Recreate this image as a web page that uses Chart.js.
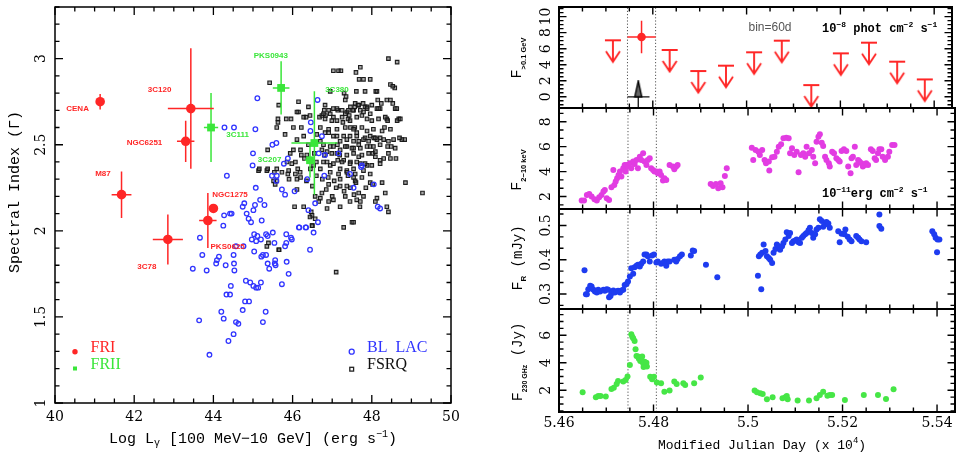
<!DOCTYPE html>
<html><head><meta charset="utf-8"><title>Radio galaxies and 3C 120</title>
<script src="https://cdn.jsdelivr.net/npm/chart.js@4.4.1/dist/chart.umd.min.js"></script>
<style>
html,body{margin:0;padding:0;background:#fff;}
#wrap{position:relative;width:959px;height:457px;overflow:hidden;background:#fff;}
#wrap canvas{position:absolute;top:0;}
</style></head>
<body><div id="wrap">
<canvas id="cL" width="480" height="457" style="left:0px"></canvas>
<canvas id="c1" width="479" height="457" style="left:480px"></canvas>
<canvas id="c2" width="479" height="457" style="left:480px"></canvas>
<canvas id="c3" width="479" height="457" style="left:480px"></canvas>
<canvas id="c4" width="479" height="457" style="left:480px"></canvas>
</div>
<script>
// ---------------- LEFT PANEL DATA ----------------
const leftXTicks = [40, 42, 44, 46, 48, 50];
const leftYTicks = [1, 1.5, 2, 2.5, 3];
const leftYTickLabels = ['1', '1.5', '2', '2.5', '3'];

const friNames = ['CENA', '3C120', 'NGC6251', 'M87', 'NGC1275', 'PKS0625', '3C78'];
const friLogL  = [41.14, 43.43, 43.30, 41.68, 44.00, 43.86, 42.85];
const friGamma = [2.75, 2.71, 2.52, 2.21, 2.13, 2.06, 1.95];
const friLErr  = [0.05, 0.58, 0.22, 0.25, 0.04, 0.22, 0.38];
const friGErr  = [0.045, 0.35, 0.12, 0.135, 0.02, 0.16, 0.145];
const friLabelPos = [[40.57, 2.71], [42.64, 2.82], [42.26, 2.51], [41.21, 2.33], [44.42, 2.21], [44.36, 1.91], [42.32, 1.79]];

const friiNames = ['3C111', 'PKS0943', '3C380', '3C207'];
const friiLogL  = [43.94, 45.71, 46.55, 46.44];
const friiGamma = [2.60, 2.83, 2.51, 2.41];
const friiLErr  = [0.18, 0.21, 0.58, 0.13];
const friiGErr  = [0.20, 0.155, 0.30, 0.10];
const friiLabelPos = [[44.61, 2.56], [45.45, 3.015], [47.12, 2.82], [45.42, 2.41]];

const blLac = [
[45.11,2.77],[44.28,2.60],[44.52,2.60],[45.06,2.59],[45.49,2.50],[45.59,2.51],[45.00,2.45],[44.99,2.38],[44.34,2.32],[45.07,2.25],
[45.48,2.32],[45.60,2.32],[45.59,2.29],[45.73,2.24],[45.81,2.21],[45.88,2.42],[45.78,2.39],[46.05,2.23],[46.37,2.30],[46.57,2.16],
[46.40,2.12],[46.80,2.32],[46.46,2.63],[46.63,2.76],[46.45,2.58],[46.74,2.55],[46.66,2.45],[46.82,2.44],[47.16,2.45],[47.73,2.37],
[47.45,2.33],[46.64,2.05],[46.16,2.02],[46.33,2.02],[46.53,1.99],[46.44,1.89],[47.54,2.25],[47.75,2.38],[48.05,2.27],[48.15,2.14],
[48.21,2.13],[45.18,2.18],[45.29,2.15],[45.05,2.15],[44.78,2.16],[44.74,2.14],[45.01,2.12],[44.84,2.10],[44.27,2.09],[44.42,2.10],
[44.46,2.10],[44.89,2.07],[44.95,2.05],[45.22,2.06],[44.25,2.03],[43.66,1.96],[43.72,1.86],[43.48,1.78],[43.83,1.77],[44.07,1.81],
[44.09,1.83],[44.14,1.85],[44.31,1.80],[44.51,1.86],[44.52,1.81],[44.53,1.77],[44.82,1.71],[44.93,1.70],[45.01,1.68],[45.08,1.67],
[45.13,1.67],[45.20,1.70],[44.44,1.68],[44.33,1.63],[44.42,1.63],[44.80,1.59],[44.90,1.59],[44.74,1.54],[45.32,1.53],[44.20,1.53],
[44.26,1.49],[43.64,1.48],[44.57,1.47],[44.63,1.46],[45.25,1.47],[44.51,1.40],[44.38,1.36],[43.90,1.28],[45.03,1.98],[45.11,1.97],
[44.97,1.95],[45.08,1.94],[45.20,1.95],[45.33,1.98],[45.37,1.97],[45.50,1.99],[45.54,1.93],[45.84,1.98],[45.96,1.96],[45.98,1.95],
[45.84,1.93],[45.81,1.91],[45.03,1.88],[45.25,1.86],[45.21,1.85],[45.33,1.86],[45.37,1.81],[45.41,1.78],[45.56,1.83],[45.55,1.81],
[45.57,1.80],[45.85,1.82],[45.90,1.75],[45.73,1.69],[46.17,2.02],[46.34,2.02],[44.57,1.91],[44.76,1.91]
];

const fsrq = [
[45.42,2.86],[45.65,2.73],[45.63,2.65],[45.84,2.65],[45.60,2.60],[45.81,2.56],[47.03,2.93],[47.16,2.93],[47.22,2.93],[47.71,2.95],
[47.60,2.92],[47.68,2.88],[47.79,2.88],[47.96,2.88],[48.42,3.00],[48.64,2.98],[48.47,2.85],[48.58,2.83],[47.83,2.81],[47.61,2.81],
[48.10,2.81],[47.30,2.80],[47.35,2.78],[46.95,2.81],[48.15,2.76],[48.38,2.76],[48.47,2.76],[48.59,2.71],[47.83,2.72],[47.88,2.72],
[47.46,2.72],[47.57,2.72],[47.65,2.73],[48.13,2.71],[48.21,2.71],[46.15,2.75],[46.15,2.69],[46.40,2.72],[46.80,2.70],[47.03,2.71],
[47.14,2.70],[47.37,2.69],[47.43,2.67],[47.54,2.70],[47.79,2.69],[47.96,2.68],[48.68,2.65],[48.64,2.64],[48.38,2.65],[46.68,2.66],
[46.74,2.67],[46.83,2.67],[46.95,2.68],[47.03,2.66],[47.25,2.66],[47.40,2.65],[46.28,2.66],[46.44,2.67],[47.46,2.60],[47.57,2.60],
[47.75,2.60],[47.62,2.57],[47.96,2.55],[48.05,2.54],[48.32,2.60],[48.55,2.53],[48.83,2.53],[48.49,2.49],[48.61,2.42],[48.30,2.42],
[46.02,2.60],[46.28,2.55],[46.61,2.56],[46.82,2.57],[46.91,2.57],[47.03,2.55],[47.20,2.52],[47.37,2.53],[47.54,2.52],[47.67,2.52],
[47.83,2.54],[47.92,2.52],[48.21,2.54],[48.13,2.53],[47.03,2.49],[48.42,2.45],[45.86,2.40],[45.98,2.39],[46.07,2.40],[46.13,2.36],
[46.22,2.44],[46.36,2.44],[46.02,2.47],[45.94,2.45],[46.74,2.47],[46.87,2.46],[47.12,2.45],[47.20,2.47],[47.37,2.49],[47.54,2.48],
[47.71,2.48],[47.96,2.49],[48.03,2.45],[48.09,2.46],[47.67,2.43],[47.14,2.41],[47.29,2.41],[47.46,2.40],[46.95,2.38],[46.78,2.40],
[47.71,2.39],[47.88,2.38],[47.54,2.36],[46.53,2.38],[46.70,2.36],[47.20,2.36],[47.37,2.35],[46.19,2.34],[45.90,2.35],[45.54,2.34],
[45.60,2.29],[45.35,2.35],[45.14,2.35],[45.52,2.29],[47.96,2.28],[48.02,2.27],[48.26,2.28],[47.54,2.31],[47.58,2.29],[47.46,2.25],
[47.37,2.26],[47.20,2.26],[47.67,2.22],[47.79,2.20],[47.62,2.18],[47.71,2.17],[47.33,2.20],[46.91,2.27],[46.74,2.22],[46.57,2.20],
[46.66,2.17],[46.91,2.17],[47.20,2.14],[47.03,2.18],[48.34,2.22],[48.13,2.19],[48.09,2.17],[48.42,2.11],[48.38,2.14],[49.28,2.22],
[48.85,2.28],[46.05,2.14],[46.11,2.24],[46.47,2.11],[46.49,2.09],[46.57,2.07],[46.50,2.03],[46.28,2.14],[45.88,2.33],[45.91,2.30],
[47.29,2.02],[47.50,2.05],[47.54,2.05],[47.10,1.76],[45.65,1.89],[45.35,1.91],[45.73,2.34],[45.56,2.27],[48.53,2.84],[48.13,2.81],
[47.33,2.76],[48.53,2.74],[48.24,2.74],[48.17,2.71],[48.63,2.71],[47.58,2.74],[47.67,2.73],[47.78,2.74],[47.52,2.70],[47.41,2.70],
[47.71,2.70],[47.88,2.71],[48.00,2.73],[46.82,2.73],[46.91,2.70],[46.78,2.68],[47.12,2.71],[47.25,2.70],[47.33,2.68],[46.34,2.66],
[46.82,2.65],[46.99,2.64],[47.12,2.64],[47.27,2.63],[47.45,2.64],[47.62,2.66],[47.75,2.67],[47.88,2.65],[48.00,2.64],[48.17,2.65],
[48.34,2.66],[48.40,2.64],[48.72,2.65],[46.70,2.60],[46.91,2.59],[47.12,2.59],[47.33,2.60],[47.54,2.59],[47.88,2.58],[48.04,2.59],
[48.26,2.58],[48.47,2.59],[47.12,2.55],[47.29,2.55],[47.45,2.55],[47.62,2.55],[47.79,2.53],[48.09,2.54],[48.30,2.53],[48.42,2.52],
[48.76,2.53],[48.70,2.54],[46.78,2.50],[46.95,2.49],[47.13,2.50],[47.33,2.49],[47.50,2.48],[47.67,2.50],[47.88,2.49],[48.04,2.49],
[48.21,2.50],[48.40,2.49],[48.59,2.48],[46.99,2.45],[47.19,2.44],[47.37,2.44],[47.54,2.45],[47.75,2.44],[47.92,2.45],[48.09,2.43],
[48.21,2.41],[48.47,2.42],[46.87,2.40],[47.03,2.39],[47.25,2.40],[47.45,2.39],[47.62,2.40],[47.83,2.39],[48.00,2.38],[48.21,2.39],
[46.95,2.34],[47.16,2.33],[47.37,2.34],[47.58,2.33],[47.79,2.35],[47.96,2.33],[46.60,2.32],[46.75,2.30],[46.90,2.31],[47.05,2.29],
[47.20,2.30],[47.40,2.32],[47.60,2.28],[47.75,2.31],[46.50,2.26],[46.85,2.24],[47.10,2.25],[47.30,2.23],[47.55,2.21],[47.85,2.25],
[46.70,2.19],[47.00,2.20],[47.45,2.17],[47.70,2.14],[46.60,2.40],[46.45,2.36],[46.30,2.42],[46.40,2.50],[46.20,2.47],[46.70,2.52],
[46.55,2.45],[46.80,2.44],[46.35,2.29],[46.20,2.31],[46.11,2.69],[45.96,2.65],[45.63,2.63],[46.22,2.60],[46.11,2.53],[45.37,2.47],
[45.16,2.36],[45.37,2.36],[45.60,2.36],[46.07,2.33],[46.11,2.30],[46.87,2.13],[45.39,1.93],[45.66,1.89],[46.49,2.03],[46.44,2.08]
];

// ---------------- RIGHT PANELS DATA (MJD) ----------------
const mjdTicks = [54600, 54800, 55000, 55200, 55400];
const mjdTickLabels = ['5.46', '5.48', '5.5', '5.52', '5.54'];
const flareWindow = [54746, 54806];

const gammaTicks = [0, 2, 4, 6, 8, 10];
const gammaULMjd = [54715, 54836, 54897, 54956, 55016, 55075, 55138, 55201, 55261, 55321, 55380];
const gammaUL    = [7.05, 5.84, 3.21, 3.88, 5.55, 7.00, 1.46, 5.42, 6.75, 4.38, 2.17];
const gammaDetMjd = [54776];
const gammaDet    = [7.46];
const gammaDetMjdErr = [30];
const gammaDetErr    = [2.04];
const ejectionMjd = [54769];
const ejectionSpan = [54746, 54793];

const xrayTicks = [2, 4, 6, 8];
const xray = [
[54648,1.68],[54653,1.68],[54659,2.13],[54664,2.21],[54669,2.00],[54675,1.79],[54680,1.68],[54685,1.95],[54690,2.13],[54694,2.40],
[54697,2.53],[54701,1.87],[54706,1.73],[54711,2.75],[54715,4.13],[54717,2.93],[54720,3.20],[54723,3.47],[54726,3.73],[54729,4.00],
[54732,3.60],[54736,4.27],[54739,4.53],[54741,4.00],[54743,4.53],[54746,4.40],[54750,4.67],[54753,4.27],[54757,4.80],[54760,4.61],
[54764,4.93],[54767,4.27],[54771,5.20],[54774,4.93],[54778,5.47],[54781,4.80],[54785,4.53],[54788,4.93],[54792,5.07],[54795,4.27],
[54799,4.13],[54802,4.00],[54806,4.00],[54809,3.87],[54813,4.00],[54816,3.73],[54820,3.28],[54823,3.47],[54827,3.33],[54834,4.53],
[54841,4.40],[54844,4.19],[54848,4.40],[54851,4.53],[54921,3.01],[54926,2.85],[54932,3.01],[54937,2.67],[54942,3.07],[54946,2.75],
[54951,3.65],[54955,4.27],[55008,5.92],[55011,4.93],[55016,5.73],[55022,5.60],[55025,5.33],[55030,5.73],[55035,4.93],[55038,4.67],
[55044,4.80],[55045,4.08],[55051,5.15],[55056,5.20],[55061,5.60],[55065,6.00],[55070,6.19],[55075,6.67],[55081,6.72],[55086,6.67],
[55089,5.47],[55093,5.87],[55098,5.33],[55103,5.60],[55107,3.95],[55112,5.33],[55117,5.47],[55121,5.20],[55124,6.00],[55129,5.47],
[55135,5.73],[55138,5.20],[55142,4.67],[55145,6.40],[55149,6.80],[55152,6.99],[55156,6.32],[55159,6.05],[55163,5.20],[55166,4.93],
[55171,4.67],[55173,4.40],[55178,5.60],[55182,5.47],[55187,5.07],[55191,4.93],[55194,4.80],[55198,5.65],[55203,5.79],[55208,5.65],
[55212,4.40],[55217,3.87],[55219,5.07],[55222,5.20],[55226,6.00],[55229,4.53],[55233,4.93],[55236,4.80],[55240,4.67],[55243,4.40],
[55247,4.53],[55250,4.67],[55254,4.53],[55260,5.79],[55264,5.65],[55268,5.07],[55271,4.93],[55275,5.47],[55278,5.79],[55282,5.79],
[55285,5.20],[55290,4.93],[55296,5.20],[55299,5.60],[55305,6.13],[55310,6.13]
];

const opticalTicks = [0.3, 0.4, 0.5];
const optical = [
[54654,0.369],[54657,0.299],[54659,0.299],[54662,0.314],[54666,0.324],[54669,0.322],[54673,0.312],[54676,0.307],[54680,0.304],[54683,0.312],
[54687,0.307],[54694,0.312],[54697,0.309],[54701,0.314],[54704,0.312],[54706,0.290],[54709,0.294],[54711,0.302],[54715,0.310],[54718,0.304],
[54722,0.307],[54725,0.309],[54729,0.304],[54732,0.310],[54736,0.312],[54739,0.326],[54743,0.329],[54746,0.336],[54750,0.351],[54753,0.375],
[54757,0.359],[54760,0.378],[54764,0.382],[54767,0.385],[54771,0.380],[54774,0.388],[54778,0.395],[54781,0.415],[54785,0.415],[54788,0.410],
[54792,0.395],[54797,0.412],[54801,0.415],[54806,0.392],[54809,0.395],[54816,0.388],[54820,0.390],[54823,0.395],[54827,0.382],[54830,0.395],
[54834,0.395],[54844,0.400],[54848,0.395],[54851,0.402],[54856,0.410],[54860,0.415],[54879,0.412],[54883,0.427],[54886,0.425],[54911,0.385],
[54935,0.349],[55021,0.353],[55028,0.314],[55023,0.410],[55026,0.415],[55030,0.420],[55033,0.444],[55037,0.425],[55040,0.410],[55044,0.405],
[55047,0.400],[55051,0.390],[55054,0.420],[55058,0.431],[55061,0.444],[55065,0.439],[55068,0.429],[55072,0.439],[55075,0.449],[55079,0.459],
[55082,0.480],[55086,0.469],[55089,0.478],[55093,0.449],[55096,0.454],[55100,0.456],[55103,0.459],[55107,0.451],[55110,0.449],[55114,0.464],
[55117,0.469],[55121,0.474],[55124,0.478],[55128,0.486],[55131,0.493],[55135,0.478],[55138,0.464],[55142,0.474],[55145,0.488],[55149,0.493],
[55152,0.518],[55156,0.513],[55159,0.496],[55163,0.503],[55166,0.510],[55170,0.506],[55173,0.493],[55191,0.483],[55194,0.451],[55198,0.476],
[55204,0.474],[55206,0.488],[55211,0.467],[55215,0.459],[55219,0.454],[55229,0.469],[55233,0.464],[55236,0.459],[55240,0.454],[55250,0.451],
[55278,0.532],[55278,0.498],[55282,0.490],[55390,0.483],[55394,0.474],[55397,0.464],[55401,0.459],[55400,0.422],[55405,0.459]
];

const mmTicks = [2, 4, 6];
const mm230 = [
[54650,1.85],[54678,1.49],[54683,1.59],[54688,1.59],[54699,1.54],[54711,2.10],[54716,2.19],[54722,2.46],[54725,2.68],[54736,2.63],
[54741,2.75],[54745,3.00],[54750,3.84],[54753,6.07],[54755,5.90],[54757,5.78],[54760,5.59],[54762,4.98],[54764,4.50],[54767,4.45],
[54769,4.30],[54771,4.33],[54772,4.13],[54774,4.21],[54776,4.45],[54778,3.96],[54779,3.70],[54781,4.08],[54783,3.84],[54785,4.01],
[54786,3.72],[54793,2.99],[54797,2.80],[54801,2.99],[54807,2.56],[54816,2.51],[54823,1.90],[54834,1.98],[54844,2.63],[54849,2.46],
[54863,2.51],[54867,2.39],[54886,2.51],[54900,2.92],[55014,1.98],[55019,1.85],[55026,1.78],[55031,1.73],[55040,1.35],[55052,1.49],
[55073,1.42],[55079,1.49],[55082,1.59],[55084,1.35],[55105,1.25],[55129,1.25],[55145,1.42],[55152,1.66],[55159,1.90],[55168,1.61],
[55173,1.66],[55178,1.66],[55205,1.30],[55245,1.66],[55275,1.66],[55292,1.37],[55308,2.07]
];

// ---------------- STYLE ----------------
const RED = '#ff2626', GREEN = '#3ae63a', BLUE_BL = '#3034ff', MAG = '#e23ce2', OPT = '#1e3cf0', MMG = '#46e646';
const NUMFONT = '14px "DejaVu Serif"';
const MONO = '"Liberation Mono"';

// ---------------- HELPERS ----------------
function pts(pairs) { return pairs.map(p => ({x: p[0], y: p[1]})); }
function zip(xs, ys) { return xs.map((x, i) => ({x: x, y: ys[i]})); }
function errSegs(xs, ys, xe, ye) {
  const out = [];
  xs.forEach((x, i) => {
    out.push({x: x, y: ys[i] - ye[i]}, {x: x, y: ys[i] + ye[i]}, {x: x, y: null});
    out.push({x: x - xe[i], y: ys[i]}, {x: x + xe[i], y: ys[i]}, {x: x, y: null});
  });
  return out;
}
function vLines(xs, lo, hi) {
  const out = [];
  xs.forEach(x => { out.push({x: x, y: lo}, {x: x, y: hi}, {x: x, y: null}); });
  return out;
}
function minorVals(maj, sub, lo, hi) {
  const st = (maj[1] - maj[0]) / sub, out = [];
  const k0 = Math.ceil((lo - maj[0]) / st - 1e-9), k1 = Math.floor((hi - maj[0]) / st + 1e-9);
  for (let k = k0; k <= k1; k++) out.push({v: maj[0] + k * st, major: (((k % sub) + sub) % sub) === 0});
  return out;
}
function drawFrame(chart, o) {
  const ctx = chart.ctx, a = chart.chartArea, xs = chart.scales.x, ys = chart.scales.y;
  ctx.save();
  ctx.strokeStyle = '#000';
  ctx.lineWidth = o.tw;
  ctx.beginPath();
  minorVals(o.xMaj, o.xSub, xs.min, xs.max).forEach(t => {
    const p = xs.getPixelForValue(t.v), L = t.major ? o.maj : o.min;
    ctx.moveTo(p, a.bottom); ctx.lineTo(p, a.bottom - L);
    ctx.moveTo(p, a.top); ctx.lineTo(p, a.top + L);
  });
  minorVals(o.yMaj, o.ySub, ys.min, ys.max).forEach(t => {
    const p = ys.getPixelForValue(t.v), L = t.major ? o.maj : o.min;
    ctx.moveTo(a.left, p); ctx.lineTo(a.left + L, p);
    ctx.moveTo(a.right, p); ctx.lineTo(a.right - L, p);
  });
  ctx.stroke();
  ctx.lineWidth = o.lw;
  ctx.strokeRect(a.left, a.top, a.right - a.left, a.bottom - a.top);
  ctx.restore();
}
function rich(ctx, parts, x, y, align, rot, color) {
  ctx.save();
  ctx.translate(x, y);
  if (rot) ctx.rotate(rot);
  ctx.fillStyle = color || '#000';
  ctx.textBaseline = 'middle';
  ctx.textAlign = 'left';
  let w = 0;
  parts.forEach(p => { ctx.font = p[1]; w += ctx.measureText(p[0]).width; });
  let cx = align === 'center' ? -w / 2 : (align === 'right' ? -w : 0);
  parts.forEach(p => { ctx.font = p[1]; ctx.fillText(p[0], cx, p[2] || 0); cx += ctx.measureText(p[0]).width; });
  ctx.restore();
}
function rotLabel(ctx, txt, x, y, font) {
  ctx.save(); ctx.translate(x, y); ctx.rotate(-Math.PI / 2);
  ctx.font = font; ctx.fillStyle = '#000'; ctx.textAlign = 'center'; ctx.textBaseline = 'middle';
  ctx.fillText(txt, 0, 0); ctx.restore();
}
function baseOptions(pad, xr, yr) {
  return {
    responsive: false, animation: false, events: [], devicePixelRatio: 1,
    layout: {padding: pad},
    plugins: {legend: {display: false}, tooltip: {enabled: false}, title: {display: false}},
    scales: {
      x: {type: 'linear', min: xr[0], max: xr[1], display: false},
      y: {type: 'linear', min: yr[0], max: yr[1], display: false}
    }
  };
}
// marker images
function ulImage(color) {
  const c = document.createElement('canvas'); c.width = 18; c.height = 48;
  const g = c.getContext('2d'); g.strokeStyle = color; g.lineWidth = 1.9;
  g.beginPath();
  g.moveTo(1, 24); g.lineTo(17, 24);
  g.moveTo(9, 24); g.lineTo(9, 45);
  g.moveTo(2, 35); g.lineTo(9, 45.5); g.lineTo(16, 35);
  g.stroke();
  return c;
}
function upArrowImage() {
  const c = document.createElement('canvas'); c.width = 10; c.height = 34;
  const g = c.getContext('2d');
  g.fillStyle = '#666'; g.strokeStyle = '#000'; g.lineWidth = 1.4;
  g.beginPath(); g.moveTo(5, 1); g.lineTo(8.5, 17); g.lineTo(1.5, 17); g.closePath(); g.fill(); g.stroke();
  return c;
}

// ---------------- LEFT CHART ----------------
const leftDeco = {
  id: 'leftDeco',
  afterDraw(chart) {
    const ctx = chart.ctx, xs = chart.scales.x, ys = chart.scales.y;
    drawFrame(chart, {xMaj: leftXTicks, xSub: 4, yMaj: leftYTicks, ySub: 5, maj: 8, min: 4.5, lw: 1.5, tw: 1.3});
    ctx.save();
    ctx.fillStyle = '#000'; ctx.font = NUMFONT; ctx.textAlign = 'center'; ctx.textBaseline = 'middle';
    leftXTicks.forEach(v => ctx.fillText(String(v), xs.getPixelForValue(v), 417));
    ctx.restore();
    leftYTicks.forEach((v, i) => rotLabel(ctx, leftYTickLabels[i], 41.5, ys.getPixelForValue(v), NUMFONT));
    // axis titles
    rich(ctx, [['Spectral Index (\u0393)', '15px ' + MONO]], 15, 192, 'center', -Math.PI / 2);
    rich(ctx, [['Log L', '15px ' + MONO], ['\u03b3', '10px ' + MONO, 4], [' [100 MeV\u221210 GeV] (erg s', '15px ' + MONO],
               ['\u22121', '10px ' + MONO, -5], [')', '15px ' + MONO]], 253, 439, 'center');
    // source labels
    ctx.save();
    ctx.font = 'bold 8px "Liberation Sans"'; ctx.textAlign = 'center'; ctx.textBaseline = 'middle';
    ctx.fillStyle = RED;
    friNames.forEach((n, i) => ctx.fillText(n, xs.getPixelForValue(friLabelPos[i][0]), ys.getPixelForValue(friLabelPos[i][1])));
    ctx.fillStyle = GREEN;
    friiNames.forEach((n, i) => ctx.fillText(n, xs.getPixelForValue(friiLabelPos[i][0]), ys.getPixelForValue(friiLabelPos[i][1])));
    ctx.restore();
    // legend
    ctx.save();
    ctx.fillStyle = RED; ctx.beginPath(); ctx.arc(75, 351.7, 2.7, 0, 2 * Math.PI); ctx.fill();
    ctx.fillStyle = GREEN; ctx.fillRect(73, 366.5, 4, 4);
    ctx.strokeStyle = BLUE_BL; ctx.lineWidth = 1.3; ctx.beginPath(); ctx.arc(351.7, 351.7, 2.5, 0, 2 * Math.PI); ctx.stroke();
    ctx.strokeStyle = '#222'; ctx.strokeRect(349.8, 367.3, 3.8, 3.8);
    ctx.font = '16px "Liberation Serif"'; ctx.textBaseline = 'middle'; ctx.textAlign = 'left';
    ctx.fillStyle = RED; ctx.fillText('FRI', 90.5, 348);
    ctx.fillStyle = GREEN; ctx.fillText('FRII', 90.5, 365);
    ctx.fillStyle = BLUE_BL; ctx.fillText('BL  LAC', 367, 348);
    ctx.fillStyle = '#111'; ctx.fillText('FSRQ', 367, 365);
    ctx.restore();
  }
};

new Chart(document.getElementById('cL'), {
  type: 'scatter',
  data: {datasets: [
    {label: 'FRI', data: zip(friLogL, friGamma), pointStyle: 'circle', pointRadius: 4.8, backgroundColor: RED, borderColor: RED, borderWidth: 0, order: 0},
    {label: 'FRII', data: zip(friiLogL, friiGamma), pointStyle: 'rect', pointRadius: 5.5, backgroundColor: GREEN, borderColor: GREEN, borderWidth: 0, order: 1},
    {label: 'FRI err', data: errSegs(friLogL, friGamma, friLErr, friGErr), showLine: true, spanGaps: false, pointRadius: 0, borderColor: RED, borderWidth: 1.5, order: 2},
    {label: 'FRII err', data: errSegs(friiLogL, friiGamma, friiLErr, friiGErr), showLine: true, spanGaps: false, pointRadius: 0, borderColor: GREEN, borderWidth: 1.5, order: 3},
    {label: 'BL LAC', data: pts(blLac), pointStyle: 'circle', pointRadius: 2.3, backgroundColor: 'rgba(255,255,255,0)', borderColor: BLUE_BL, borderWidth: 1.3, order: 4},
    {label: 'FSRQ', data: pts(fsrq), pointStyle: 'rect', pointRadius: 2.5, backgroundColor: 'rgba(80,80,80,0.5)', borderColor: 'rgba(20,20,20,0.95)', borderWidth: 1.1, order: 5}
  ]},
  options: baseOptions({left: 55, top: 7, right: 29, bottom: 54}, [40, 50], [1, 3.3]),
  plugins: [leftDeco]
});

// ---------------- RIGHT CHARTS ----------------
const XR = [54600, 55438];
const RPAD = {left: 79, right: 1};
const panels = [
  {id: 'c1', top: 7, bottom: 108, yr: [-1.4, 11.2], yMaj: gammaTicks, ySub: 4},
  {id: 'c2', top: 108, bottom: 209, yr: [1.0, 9.1], yMaj: xrayTicks, ySub: 3},
  {id: 'c3', top: 209, bottom: 309, yr: [0.256, 0.548], yMaj: opticalTicks, ySub: 3},
  {id: 'c4', top: 309, bottom: 412, yr: [0.42, 7.91], yMaj: mmTicks, ySub: 4}
];
function dotted(p) {
  return {label: 'window', data: vLines(flareWindow, p.yr[0], p.yr[1]), showLine: true, spanGaps: false, pointRadius: 0,
          borderColor: '#555', borderWidth: 1, borderDash: [1.2, 2], order: 20};
}
function rightDeco(idx, extra) {
  return {
    id: 'rdeco' + idx,
    afterDraw(chart) {
      const ctx = chart.ctx, ys = chart.scales.y, xs = chart.scales.x, p = panels[idx];
      drawFrame(chart, {xMaj: mjdTicks, xSub: 4, yMaj: p.yMaj, ySub: p.ySub, maj: 7.5, min: 4.5, lw: 2, tw: 1.4});
      p.yMaj.forEach(v => {
        const py = ys.getPixelForValue(v);
        if (py >= chart.chartArea.top - 2 && py <= chart.chartArea.bottom + 2) rotLabel(ctx, String(v), 66, py, NUMFONT);
      });
      if (extra) extra(chart, ctx, xs, ys);
    }
  };
}

// panel 1: gamma-ray
const ulImg = ulImage(RED), upImg = upArrowImage();
new Chart(document.getElementById('c1'), {
  type: 'scatter',
  data: {datasets: [
    {label: 'detection', data: zip(gammaDetMjd, gammaDet), pointStyle: 'circle', pointRadius: 4.3, backgroundColor: RED, borderWidth: 0, order: 0},
    {label: 'det err', data: errSegs(gammaDetMjd, gammaDet, gammaDetMjdErr, gammaDetErr), showLine: true, spanGaps: false, pointRadius: 0, borderColor: RED, borderWidth: 1.5, order: 1},
    {label: 'upper limits', data: zip(gammaULMjd, gammaUL), pointStyle: ulImg, pointRadius: 6, order: 2},
    {label: 'ejection head', data: zip(ejectionMjd, [0]), pointStyle: upImg, pointRadius: 6, order: 3},
    {label: 'ejection', data: [{x: ejectionSpan[0], y: 0}, {x: ejectionSpan[1], y: 0}, {x: ejectionSpan[1], y: null},
                               {x: ejectionMjd[0], y: -1.4}, {x: ejectionMjd[0], y: 1.2}],
     showLine: true, spanGaps: false, pointRadius: 0, borderColor: '#111', borderWidth: 1.3, order: 4},
    dotted(panels[0])
  ]},
  options: baseOptions({left: RPAD.left, right: RPAD.right, top: panels[0].top, bottom: 457 - panels[0].bottom}, XR, panels[0].yr),
  plugins: [rightDeco(0, (chart, ctx) => {
    rich(ctx, [['F', '15px ' + MONO], ['>0.1 GeV', 'bold 7.5px "Liberation Sans"', 7]], 37, 58, 'center', -Math.PI / 2);
    ctx.save(); ctx.fillStyle = '#555'; ctx.font = '12px "Liberation Sans"'; ctx.textAlign = 'center'; ctx.textBaseline = 'middle';
    ctx.fillText('bin=60d', 290, 28); ctx.restore();
    rich(ctx, [['10', 'bold 12px ' + MONO], ['\u22128', 'bold 8px ' + MONO, -4], [' phot cm', 'bold 12px ' + MONO], ['\u22122', 'bold 8px ' + MONO, -4],
               [' s', 'bold 12px ' + MONO], ['\u22121', 'bold 8px ' + MONO, -4]], 342, 29, 'left');
  })]
});

// panel 2: X-ray
new Chart(document.getElementById('c2'), {
  type: 'scatter',
  data: {datasets: [
    {label: 'F 2-10 keV', data: pts(xray), pointStyle: 'circle', pointRadius: 3, backgroundColor: MAG, borderWidth: 0, order: 0},
    dotted(panels[1])
  ]},
  options: baseOptions({left: RPAD.left, right: RPAD.right, top: panels[1].top, bottom: 457 - panels[1].bottom}, XR, panels[1].yr),
  plugins: [rightDeco(1, (chart, ctx) => {
    rich(ctx, [['F', '15px ' + MONO], ['2\u221210 keV', 'bold 7.5px "Liberation Sans"', 7]], 37, 170, 'center', -Math.PI / 2);
    rich(ctx, [['10', 'bold 12px ' + MONO], ['\u221211', 'bold 8px ' + MONO, -4], ['erg cm', 'bold 12px ' + MONO], ['\u22122', 'bold 8px ' + MONO, -4],
               [' s', 'bold 12px ' + MONO], ['\u22121', 'bold 8px ' + MONO, -4]], 342, 194, 'left');
  })]
});

// panel 3: optical R
new Chart(document.getElementById('c3'), {
  type: 'scatter',
  data: {datasets: [
    {label: 'F R', data: pts(optical), pointStyle: 'circle', pointRadius: 3, backgroundColor: OPT, borderWidth: 0, order: 0},
    dotted(panels[2])
  ]},
  options: baseOptions({left: RPAD.left, right: RPAD.right, top: panels[2].top, bottom: 457 - panels[2].bottom}, XR, panels[2].yr),
  plugins: [rightDeco(2, (chart, ctx) => {
    rich(ctx, [['F', '15px ' + MONO], ['R', 'bold 8px "Liberation Sans"', 6], [' (mJy)', '14px ' + MONO]], 38, 258, 'center', -Math.PI / 2);
  })]
});

// panel 4: 230 GHz
new Chart(document.getElementById('c4'), {
  type: 'scatter',
  data: {datasets: [
    {label: 'F 230 GHz', data: pts(mm230), pointStyle: 'circle', pointRadius: 3, backgroundColor: MMG, borderWidth: 0, order: 0},
    dotted(panels[3])
  ]},
  options: baseOptions({left: RPAD.left, right: RPAD.right, top: panels[3].top, bottom: 457 - panels[3].bottom}, XR, panels[3].yr),
  plugins: [rightDeco(3, (chart, ctx, xs) => {
    rich(ctx, [['F', '15px ' + MONO], ['230 GHz', 'bold 7px "Liberation Sans"', 7], [' (Jy)', '14px ' + MONO]], 38, 362, 'center', -Math.PI / 2);
    ctx.save(); ctx.fillStyle = '#000'; ctx.font = NUMFONT; ctx.textAlign = 'center'; ctx.textBaseline = 'middle';
    mjdTicks.forEach((v, i) => ctx.fillText(mjdTickLabels[i], xs.getPixelForValue(v), 423));
    ctx.restore();
    rich(ctx, [['Modified Julian Day (x 10', '13px ' + MONO], ['4', '9px ' + MONO, -5], [')', '13px ' + MONO]], 282, 446, 'center');
  })]
});
</script>
</body></html>
